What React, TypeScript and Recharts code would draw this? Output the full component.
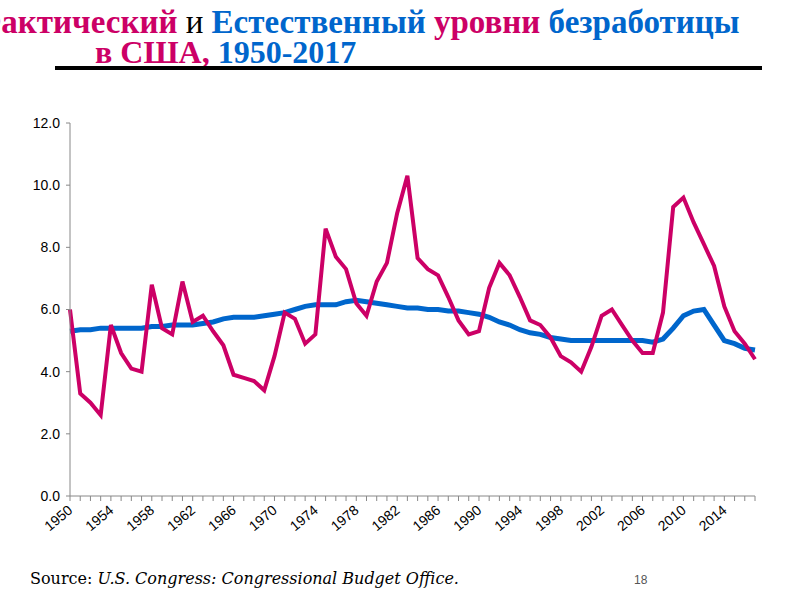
import React from "react";
import { LineChart, Line, XAxis, YAxis } from "recharts";

const years: number[] = [];
for (let y = 1950; y <= 2017; y++) years.push(y);

const actualRate: number[] = [
  6.0, 3.3, 3.0, 2.6, 5.5, 4.6, 4.1, 4.0, 6.8, 5.4,
  5.2, 6.9, 5.6, 5.8, 5.3, 4.85, 3.9, 3.8, 3.7, 3.4,
  4.5, 5.9, 5.7, 4.9, 5.2, 8.6, 7.7, 7.3, 6.2, 5.8,
  6.9, 7.5, 9.1, 10.3, 7.65, 7.3, 7.1, 6.4, 5.65, 5.2,
  5.3, 6.7, 7.5, 7.1, 6.4, 5.65, 5.5, 5.1, 4.5, 4.3,
  4.0, 4.8, 5.8, 6.0, 5.5, 5.0, 4.6, 4.6, 5.9, 9.3,
  9.6, 8.8, 8.1, 7.4, 6.1, 5.3, 4.9, 4.4,
];

const naturalRate: number[] = [
  5.3, 5.35, 5.35, 5.4, 5.4, 5.4, 5.4, 5.4, 5.45, 5.45,
  5.5, 5.5, 5.5, 5.55, 5.6, 5.7, 5.75, 5.75, 5.75, 5.8,
  5.85, 5.9, 6.0, 6.1, 6.15, 6.15, 6.15, 6.25, 6.3, 6.25,
  6.2, 6.15, 6.1, 6.05, 6.05, 6.0, 6.0, 5.95, 5.95, 5.9,
  5.85, 5.75, 5.6, 5.5, 5.35, 5.25, 5.2, 5.1, 5.05, 5.0,
  5.0, 5.0, 5.0, 5.0, 5.0, 5.0, 5.0, 4.95, 5.05, 5.4,
  5.8, 5.95, 6.0, 5.5, 5.0, 4.9, 4.75, 4.7,
];

const yTicks: number[] = [0, 2, 4, 6, 8, 10, 12];

const data = years.map((year, i) => ({
  year,
  actual: actualRate[i],
  natural: naturalRate[i],
}));

const MAGENTA = "#CC0066";
const BLUE = "#0066CC";

const XTick = (props: any) => {
  const { x, y, payload } = props;
  const yr = Number(payload.value);
  if ((yr - 1950) % 4 !== 0) return null;
  return (
    <g transform={`translate(${x},${y})`}>
      <text
        x={0}
        y={0}
        dx={-3}
        dy={9}
        textAnchor="end"
        transform="rotate(-40)"
        fontFamily="'Liberation Sans', Arial, sans-serif"
        fontSize={14}
        fill="#000"
      >
        {yr}
      </text>
    </g>
  );
};

export default function App() {
  const titleFont = "'Liberation Serif', 'Times New Roman', serif";
  return (
    <div
      style={{
        position: "absolute",
        left: 0,
        top: 0,
        width: 800,
        height: 600,
        overflow: "hidden",
        background: "#fff",
      }}
    >
      <div
        style={{
          position: "absolute",
          left: -27,
          top: 7,
          whiteSpace: "nowrap",
          fontFamily: titleFont,
          fontWeight: "bold",
          fontSize: 33,
          lineHeight: "30px",
        }}
      >
        <span style={{ color: MAGENTA }}>Фактический</span>
        <span style={{ color: "#000", fontWeight: "normal" }}> и </span>
        <span style={{ color: BLUE }}>Естественный </span>
        <span style={{ color: MAGENTA }}>уровни </span>
        <span style={{ color: BLUE }}>безработицы</span>
      </div>
      <div
        style={{
          position: "absolute",
          left: 95,
          top: 37,
          whiteSpace: "nowrap",
          fontFamily: titleFont,
          fontWeight: "bold",
          fontSize: 32,
          lineHeight: "30px",
        }}
      >
        <span style={{ color: MAGENTA }}>в США, </span>
        <span style={{ color: BLUE }}>1950-2017</span>
      </div>
      <div
        style={{
          position: "absolute",
          left: 55,
          top: 66,
          width: 707,
          height: 4,
          background: "#000",
        }}
      />
      <div style={{ position: "absolute", left: 0, top: 0 }}>
        <LineChart
          width={800}
          height={600}
          data={data}
          margin={{ top: 123, right: 45, bottom: 64, left: 0 }}
        >
          <XAxis
            dataKey="year"
            interval={0}
            tick={<XTick />}
            tickLine={{ stroke: "#888" }}
            tickSize={5}
            axisLine={{ stroke: "#888" }}
            height={40}
          />
          <YAxis
            domain={[0, 12]}
            ticks={yTicks}
            tickFormatter={(v: number) => v.toFixed(1)}
            width={70}
            tickSize={4}
            tickMargin={6}
            tickLine={{ stroke: "#888" }}
            axisLine={{ stroke: "#888" }}
            tick={{
              fontFamily: "'Liberation Sans', Arial, sans-serif",
              fontSize: 14,
              fill: "#000",
            }}
          />
          <Line
            dataKey="natural"
            stroke={BLUE}
            strokeWidth={5}
            dot={false}
            isAnimationActive={false}
            type="linear"
          />
          <Line
            dataKey="actual"
            stroke={MAGENTA}
            strokeWidth={4}
            dot={false}
            isAnimationActive={false}
            type="linear"
          />
        </LineChart>
      </div>
      <div
        style={{
          position: "absolute",
          left: 30,
          top: 569,
          whiteSpace: "nowrap",
          fontFamily: "'DejaVu Serif', serif",
          fontSize: 16,
          color: "#000",
        }}
      >
        Source: <i>U.S. Congress: Congressional Budget Office.</i>
      </div>
      <div
        style={{
          position: "absolute",
          left: 634,
          top: 573,
          fontFamily: "'Liberation Sans', Arial, sans-serif",
          fontSize: 12,
          color: "#555",
        }}
      >
        18
      </div>
    </div>
  );
}
